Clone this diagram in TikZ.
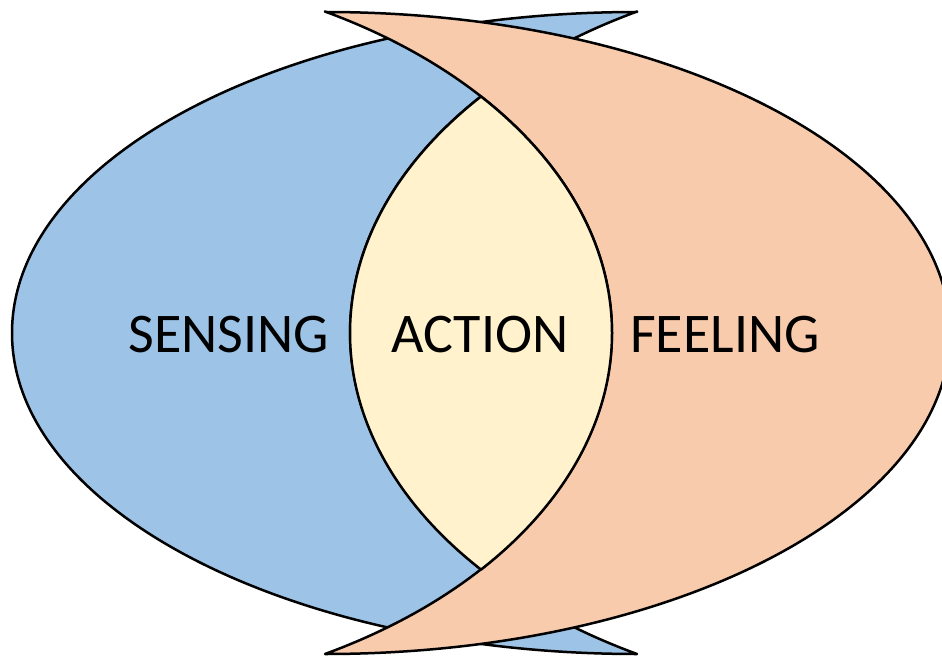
\documentclass[tikz,border=0pt]{standalone}
\usepackage{fontspec}
\setmainfont{Carlito}
\usepackage{xcolor}
\definecolor{sense}{RGB}{157,195,230}
\definecolor{feel}{RGB}{248,203,173}
\definecolor{act}{RGB}{255,242,204}
\tikzstyle{region} = [draw=black, line width=2.5pt, line join=round]
\tikzstyle{word} = [font=\fontsize{56}{67}\selectfont, text=black, inner sep=0pt]

\begin{document}
\begin{tikzpicture}[x=1pt, y=1pt]
    \clip (0,0) rectangle (942,657);
    % sensing crescent
    \path [region, fill=sense] (637,645)
        arc [start angle=90, end angle=270, x radius=625, y radius=321]
        arc [start angle=240.8, end angle=119.2, x radius=560, y radius=368] -- cycle;
    % feeling crescent
    \path [region, fill=feel] (325,645)
        arc [start angle=90, end angle=-90, x radius=625, y radius=321]
        arc [start angle=-60.8, end angle=60.8, x radius=560, y radius=368] -- cycle;
    % action lens
    \path [region, fill=act] (481,560.5)
        arc [start angle=140, end angle=220, x radius=560, y radius=368]
        arc [start angle=-40, end angle=40, x radius=560, y radius=368] -- cycle;

    \node [word] (sensing) at (229,322) {SENSING};
    \node [word] (action) at (480,322) {ACTION};
    \node [word] (feeling) at (725,322) {FEELING};
\end{tikzpicture}
\end{document}
